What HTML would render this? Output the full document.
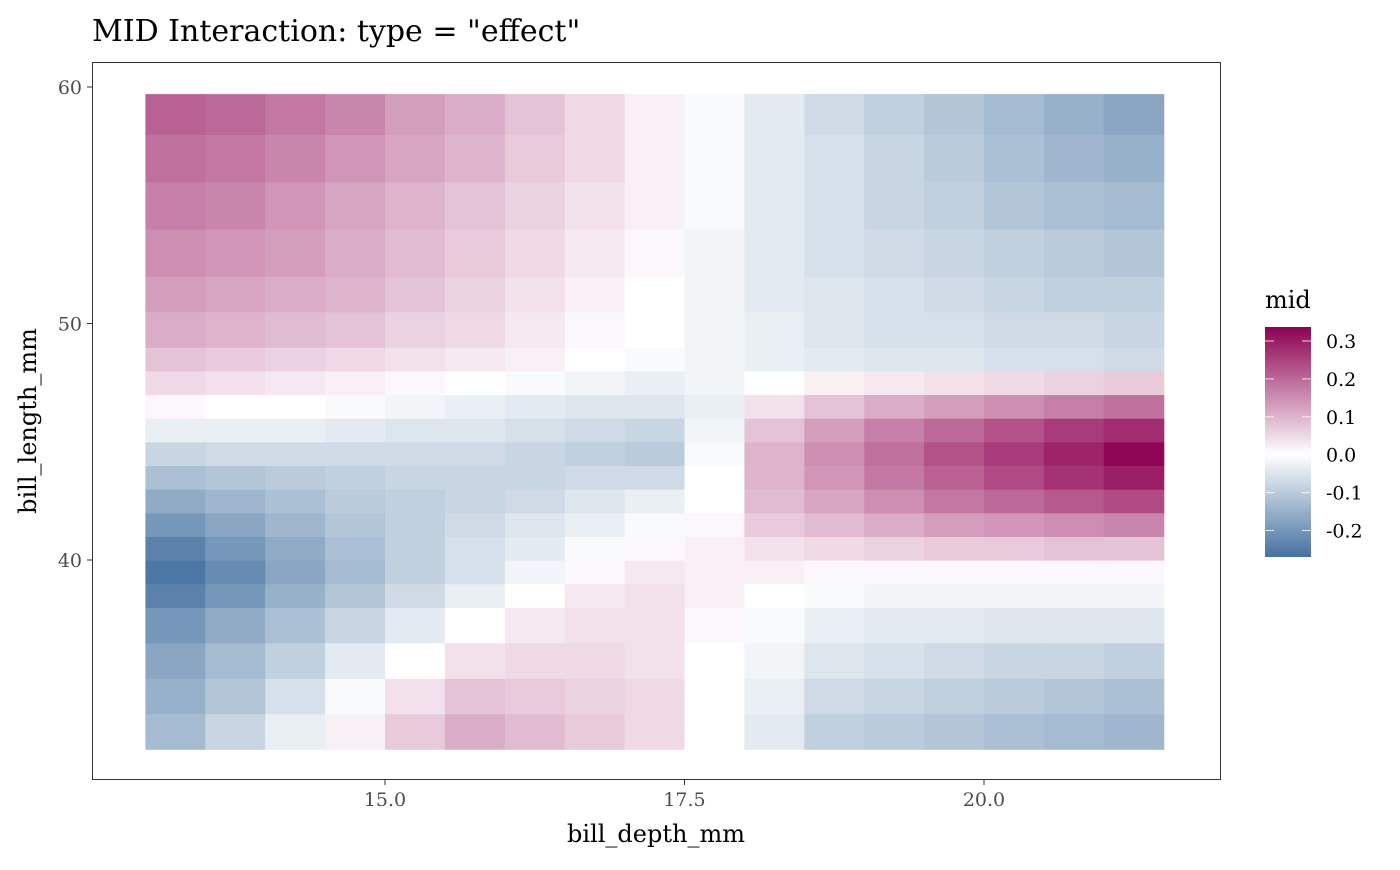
<!DOCTYPE html>
<html><head><meta charset="utf-8"><style>
body{margin:0;background:#fff}
svg text{font-family:"DejaVu Serif","Liberation Serif",serif}
</style></head><body>
<svg id="chart" width="1400" height="865" xmlns="http://www.w3.org/2000/svg">
<rect width="1400" height="865" fill="#fff"/>
<text x="92" y="41" font-size="30" fill="#000">MID Interaction: type = "effect"</text>
<g id="cells"></g>
<rect x="92.5" y="62.5" width="1128" height="717" fill="none" stroke="#333" stroke-width="1"/>
<g id="axes"></g>
<text x="656" y="842" font-size="24" text-anchor="middle" fill="#000">bill_depth_mm</text>
<text transform="translate(36,421) rotate(-90)" font-size="24" text-anchor="middle" fill="#000">bill_length_mm</text>
<text x="1265" y="308" font-size="24" fill="#000">mid</text>
<defs><linearGradient id="lg" x1="0" y1="0" x2="0" y2="1">
<stop offset="0" stop-color="#8e0152"/><stop offset="0.555" stop-color="#ffffff"/><stop offset="1" stop-color="#4572a0"/>
</linearGradient></defs>
<rect x="1265" y="327" width="46" height="230" fill="url(#lg)"/>
<g id="legend"></g>
</svg>
<script>
const depthEdges=[13,13.5,14,14.5,15,15.5,16,16.5,17,17.5,18,18.5,19,19.5,20,20.5,21,21.5];
const lengthEdges=[32,33.5,35,36.5,38,39,40,41,42,43,44,45,46,47,48,49,50.5,52,54,56,58,59.7];
const midValues=[
[-0.13,-0.08,-0.03,0.02,0.07,0.11,0.09,0.07,0.05,0.0,-0.04,-0.09,-0.1,-0.11,-0.12,-0.13,-0.14],
[-0.15,-0.11,-0.06,-0.01,0.04,0.08,0.07,0.06,0.05,0.0,-0.03,-0.07,-0.08,-0.09,-0.1,-0.11,-0.12],
[-0.17,-0.13,-0.09,-0.04,0.0,0.04,0.05,0.05,0.04,0.0,-0.02,-0.05,-0.06,-0.07,-0.08,-0.08,-0.09],
[-0.2,-0.16,-0.12,-0.08,-0.04,0.0,0.03,0.04,0.04,0.01,-0.01,-0.03,-0.04,-0.04,-0.05,-0.05,-0.05],
[-0.24,-0.2,-0.15,-0.11,-0.07,-0.03,0.0,0.03,0.04,0.02,0.0,-0.01,-0.02,-0.02,-0.02,-0.02,-0.02],
[-0.26,-0.22,-0.17,-0.13,-0.09,-0.06,-0.02,0.01,0.03,0.02,0.02,0.01,0.01,0.01,0.01,0.01,0.01],
[-0.24,-0.2,-0.16,-0.12,-0.09,-0.06,-0.04,-0.01,0.01,0.02,0.04,0.05,0.06,0.07,0.07,0.08,0.08],
[-0.2,-0.17,-0.14,-0.11,-0.09,-0.07,-0.05,-0.03,-0.01,0.01,0.07,0.09,0.11,0.13,0.14,0.15,0.16],
[-0.16,-0.14,-0.12,-0.1,-0.09,-0.08,-0.07,-0.05,-0.03,0.0,0.09,0.12,0.15,0.18,0.2,0.22,0.24],
[-0.12,-0.11,-0.1,-0.09,-0.08,-0.08,-0.08,-0.07,-0.07,0.0,0.1,0.14,0.18,0.21,0.24,0.27,0.3],
[-0.08,-0.07,-0.07,-0.07,-0.07,-0.07,-0.08,-0.09,-0.1,-0.01,0.1,0.15,0.19,0.23,0.26,0.29,0.33],
[-0.03,-0.03,-0.03,-0.04,-0.05,-0.05,-0.06,-0.07,-0.08,-0.02,0.08,0.13,0.17,0.2,0.23,0.26,0.28],
[0.01,0.0,0.0,-0.01,-0.02,-0.03,-0.04,-0.05,-0.05,-0.03,0.04,0.08,0.11,0.13,0.15,0.17,0.19],
[0.05,0.04,0.03,0.02,0.01,0.0,-0.01,-0.02,-0.03,-0.02,0.0,0.02,0.03,0.04,0.05,0.06,0.07],
[0.08,0.07,0.06,0.05,0.04,0.03,0.02,0.0,-0.01,-0.02,-0.03,-0.04,-0.05,-0.05,-0.06,-0.06,-0.07],
[0.11,0.1,0.09,0.08,0.06,0.05,0.03,0.01,0.0,-0.02,-0.03,-0.05,-0.06,-0.06,-0.07,-0.07,-0.08],
[0.13,0.12,0.11,0.1,0.08,0.06,0.04,0.02,0.0,-0.02,-0.04,-0.05,-0.06,-0.07,-0.08,-0.09,-0.09],
[0.15,0.14,0.13,0.11,0.09,0.07,0.05,0.03,0.01,-0.02,-0.04,-0.06,-0.07,-0.08,-0.09,-0.1,-0.11],
[0.17,0.16,0.14,0.12,0.1,0.08,0.06,0.04,0.02,-0.01,-0.04,-0.06,-0.08,-0.09,-0.11,-0.12,-0.13],
[0.19,0.18,0.16,0.14,0.12,0.1,0.07,0.05,0.02,-0.01,-0.04,-0.06,-0.08,-0.1,-0.12,-0.14,-0.15],
[0.21,0.2,0.18,0.16,0.13,0.11,0.08,0.05,0.02,-0.01,-0.04,-0.07,-0.09,-0.11,-0.13,-0.15,-0.17]
];
const xTicks=[15,17.5,20];
const xTickLabels=["15.0","17.5","20.0"];
const yTicks=[40,50,60];
const yTickLabels=["40","50","60"];
const legendTicks=[0.3,0.2,0.1,0.0,-0.1,-0.2];
const legendTickLabels=["0.3","0.2","0.1","0.0","-0.1","-0.2"];
const legendMax=0.337, legendMin=-0.27;

const NS="http://www.w3.org/2000/svg";
function xs(d){return 385+(d-15)*119.8;}
function ys(l){return 560-(l-40)*23.65;}
function ls(v){return 327+(legendMax-v)/(legendMax-legendMin)*230;}
function color(v){
  let c,t;
  if(v>=0){t=Math.min(1,v/legendMax);c=[142,1,82];}
  else{t=Math.min(1,-v/(-legendMin));c=[69,114,160];}
  const r=Math.round(255+(c[0]-255)*t),g=Math.round(255+(c[1]-255)*t),b=Math.round(255+(c[2]-255)*t);
  return `rgb(${r},${g},${b})`;
}
function mk(tag,attrs,parent){const e=document.createElementNS(NS,tag);for(const k in attrs)e.setAttribute(k,attrs[k]);parent.appendChild(e);return e;}
const cells=document.getElementById('cells');
for(let i=0;i<midValues.length;i++){
  for(let j=0;j<midValues[i].length;j++){
    const x0=xs(depthEdges[j]),x1=xs(depthEdges[j+1]),y0=ys(lengthEdges[i+1]),y1=ys(lengthEdges[i]);
    const r=mk('rect',{x:x0,y:y0,width:x1-x0+0.6,height:y1-y0+0.6,fill:color(midValues[i][j])},cells);
    
    
  }
}
const axes=document.getElementById('axes');
xTicks.forEach((v,i)=>{
  const l=mk('line',{x1:xs(v),x2:xs(v),y1:780,y2:785,stroke:'#333'},axes);
  
  
  const t=mk('text',{x:xs(v),y:806,'font-size':19,'text-anchor':'middle',fill:'#4d4d4d'},axes);
  t.textContent=xTickLabels[i];
  
  
});
yTicks.forEach((v,i)=>{
  const l=mk('line',{x1:87,x2:92,y1:ys(v),y2:ys(v),stroke:'#333'},axes);
  
  
  const t=mk('text',{x:82,y:ys(v)+7,'font-size':19,'text-anchor':'end',fill:'#4d4d4d'},axes);
  t.textContent=yTickLabels[i];
  
  
});
const leg=document.getElementById('legend');
legendTicks.forEach((v,i)=>{
  const y=ls(v);
  const a=mk('line',{x1:1265,x2:1274,y1:y,y2:y,stroke:'#fff','stroke-opacity':0.8},leg);
  
  
  const b=mk('line',{x1:1302,x2:1311,y1:y,y2:y,stroke:'#fff','stroke-opacity':0.8},leg);
  
  
  const t=mk('text',{x:1326,y:y+7,'font-size':19,fill:'#000'},leg);
  t.textContent=legendTickLabels[i];
  
  
});
</script>
</body></html>
